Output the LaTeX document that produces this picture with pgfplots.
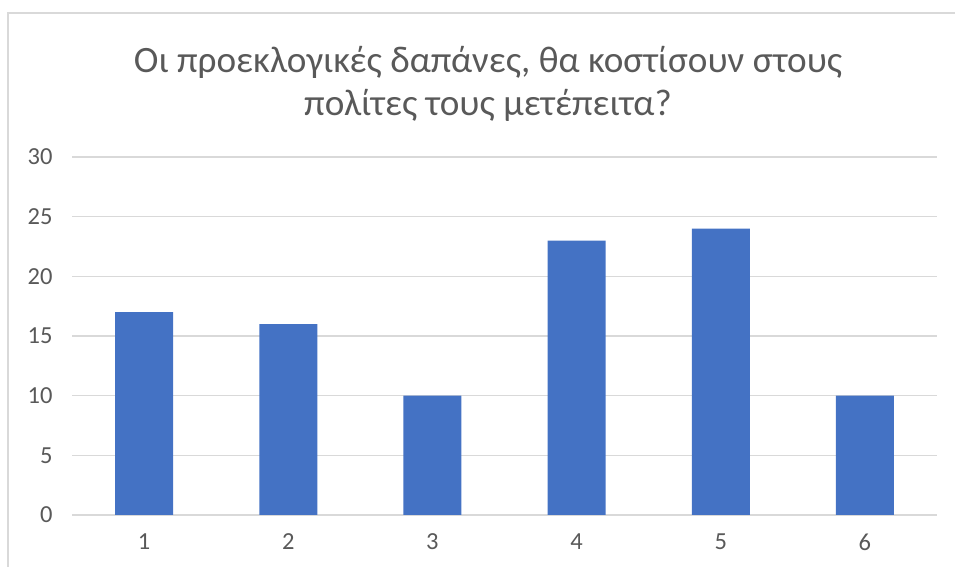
\documentclass[border=0pt]{standalone}
\usepackage{fontspec}
\setmainfont{Carlito}
\usepackage{pgfplots}
\pgfplotsset{compat=1.18}
\definecolor{barblue}{HTML}{4472C4}
\definecolor{gridgray}{HTML}{D9D9D9}
\definecolor{txtgray}{HTML}{595959}
\begin{document}
\begin{tikzpicture}[x=1pt,y=1pt]
\useasboundingbox (0,0) rectangle (955,567);
\draw[gridgray, line width=1.2pt] (8,-10) -- (8,554) -- (970,554);
\node[anchor=base, text=txtgray, font=\fontsize{37.2}{44}\selectfont] at (488,494) {Οι προεκλογικές δαπάνες, θα κοστίσουν στους};
\node[anchor=base, text=txtgray, font=\fontsize{37.2}{44}\selectfont] at (488,451) {πολίτες τους μετέπειτα?};
\begin{axis}[
  at={(72pt,52pt)}, anchor=south west,
  scale only axis, width=865pt, height=358pt,
  xmin=0.5, xmax=6.5, ymin=0, ymax=30,
  ytick={0,5,...,30}, xtick={1,2,3,4,5,6},
  axis line style={draw=none},
  major tick length=0pt,
  ymajorgrids, grid style={gridgray, line width=1.1pt},
  /pgf/number format/assume math mode=true,
  ticklabel style={text=txtgray, font=\fontsize{24.5}{29}\selectfont},
  yticklabel style={xshift=-16pt},
  xticklabel style={yshift=-15pt},
]
\addplot[ybar, bar width=58pt, fill=barblue, draw=none] coordinates {(1,17) (2,16) (3,10) (4,23) (5,24) (6,10)};
\end{axis}
\end{tikzpicture}
\end{document}
